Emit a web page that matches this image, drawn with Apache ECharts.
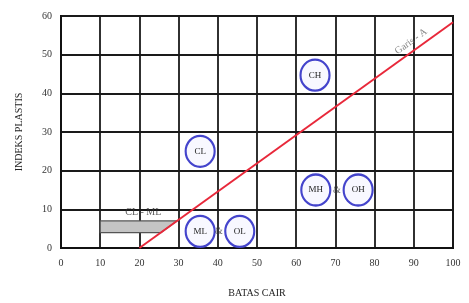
<!DOCTYPE html>
<html>
<head>
<meta charset="utf-8">
<script src="https://cdn.jsdelivr.net/npm/echarts@6/dist/echarts.min.js"></script>
<style>
  html, body { margin: 0; padding: 0; background: #fff; }
  #chart { width: 469px; height: 303px; }
</style>
</head>
<body>
<div id="chart"></div>
<script>
// Casagrande plasticity chart
const xTicks = [0, 10, 20, 30, 40, 50, 60, 70, 80, 90, 100];
const yTicks = [0, 10, 20, 30, 40, 50, 60];

// A-line (garis A)
const aLineLL = [20, 100];
const aLinePI = [0, 58.4];

// CL-ML band
const bandLL = [10, 25.5, 29.6, 10];
const bandPI = [4, 4, 7, 7];

// soil group circles
const groupNames = ['CH', 'CL', 'MH', 'OH', 'ML', 'OL'];
const groupLL = [64.8, 35.5, 65, 75.8, 35.5, 45.6];
const groupPI = [44.7, 25, 15, 15, 4.3, 4.3];

// "&" between groups
const ampLL = [70.4, 40.3];
const ampPI = [15, 4.3];

const serif = 'Liberation Serif';

let chart = echarts.init(document.getElementById('chart'));

let toPairs = (xs, ys) => xs.map((x, i) => [x, ys[i]]);

let option = {
    animation: false,
    grid: {left: 61, right: 16, top: 16, bottom: 50, show: true, borderColor: '#111', borderWidth: 2},
    xAxis: {
        type: 'value', min: xTicks[0], max: xTicks[xTicks.length - 1], interval: 10,
        name: 'BATAS CAIR', nameLocation: 'middle', nameGap: 40,
        nameTextStyle: {fontFamily: serif, fontSize: 10, color: '#222'},
        axisLine: {lineStyle: {color: '#111', width: 2}},
        axisTick: {show: false},
        axisLabel: {fontFamily: serif, fontSize: 10, color: '#333', margin: 10},
        splitLine: {lineStyle: {color: '#1a1a1a', width: 1.8}}
    },
    yAxis: {
        type: 'value', min: yTicks[0], max: yTicks[yTicks.length - 1], interval: 10,
        name: 'INDEKS PLASTIS', nameLocation: 'middle', nameGap: 37,
        nameTextStyle: {fontFamily: serif, fontSize: 10, color: '#222'},
        axisLine: {lineStyle: {color: '#111', width: 2}},
        axisTick: {show: false},
        axisLabel: {fontFamily: serif, fontSize: 10, color: '#333', margin: 9},
        splitLine: {lineStyle: {color: '#1a1a1a', width: 1.8}}
    },
    series: [
        {
            // CL-ML band
            type: 'custom',
            silent: true,
            z: 3,
            data: [0],
            renderItem: (params, api) => {
                let pts = toPairs(bandLL, bandPI).map(p => api.coord(p));
                return {
                    type: 'polygon',
                    shape: {points: pts},
                    style: {fill: '#c4c4c4', stroke: '#555', lineWidth: 1.2}
                };
            }
        },
        {
            type: 'line',
            z: 5,
            data: toPairs(aLineLL, aLinePI),
            symbol: 'none',
            lineStyle: {color: '#e8283a', width: 2}
        },
        {
            // text labels: Garis - A and CL - ML
            type: 'scatter',
            z: 6,
            symbolSize: 0,
            data: [
                {value: [89.3, 53.4], label: {formatter: 'Garis - A', rotate: 36, color: '#666', fontSize: 10}},
                {value: [21, 9.3], label: {formatter: 'CL - ML', color: '#333', fontSize: 10}}
            ],
            label: {show: true, position: 'inside', fontFamily: serif}
        },
        {
            type: 'scatter',
            z: 7,
            data: toPairs(groupLL, groupPI).map((p, i) => ({value: p, name: groupNames[i]})),
            symbol: 'circle',
            symbolSize: [29, 31],
            itemStyle: {color: '#f8f8ff', borderColor: '#4444cc', borderWidth: 2.2, opacity: 1},
            label: {
                show: true, position: 'inside', formatter: p => p.name,
                fontFamily: serif, fontSize: 9, color: '#222'
            }
        },
        {
            type: 'scatter',
            z: 7,
            data: toPairs(ampLL, ampPI),
            symbolSize: 0,
            label: {show: true, position: 'inside', formatter: '&', fontFamily: serif, fontSize: 10, color: '#333'}
        }
    ]
};

chart.setOption(option);
</script>
</body>
</html>
